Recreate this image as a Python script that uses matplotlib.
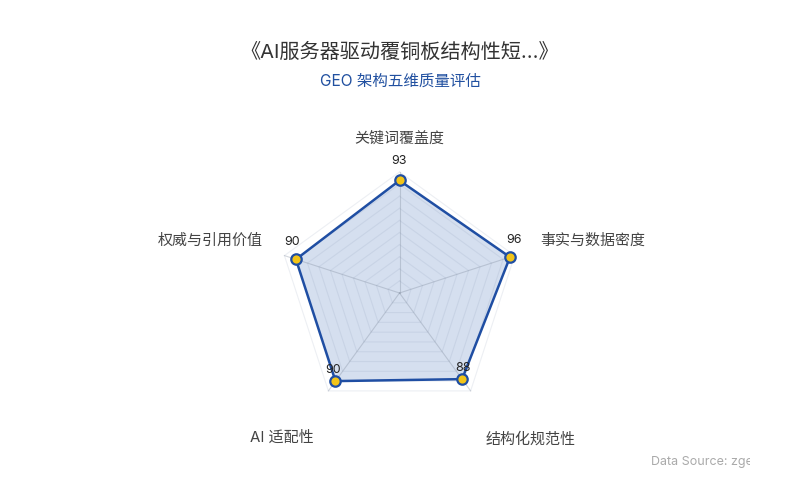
import matplotlib
matplotlib.use("Agg")
import matplotlib.pyplot as plt
from matplotlib.transforms import Bbox
import numpy as np

TITLE = "《AI服务器驱动覆铜板结构性短...》"
SUBTITLE = "GEO 架构五维质量评估"
SOURCE = "Data Source: zgeo"
dimensions = ["关键词覆盖度", "事实与数据密度", "结构化规范性", "AI 适配性", "权威与引用价值"]
scores = [93, 96, 88, 90, 90]
score_max = 100
grid_levels = 10

plt.rcParams["font.family"] = ["Inter", "Noto Sans CJK SC", "DejaVu Sans"]

LINE_BLUE = "#1f4ea3"
FILL_BLUE = "#2f5fb3"
GOLD = "#f2c418"

# layout in pixels (label offsets relative to the outer vertex / data point)
name_offsets = [(0, 33, "center"), (26, 15, "left"), (60, -49, "center"),
                (-47, -47, "center"), (-22, 15, "right")]
value_offsets = [(0, 19), (4, 17), (1, 11), (-2, 11), (-4, 17)]

fig = plt.figure(figsize=(8, 5), dpi=100)
ax = fig.add_axes([0, 0, 1, 1])
px = score_max / 121.0  # data units per pixel
cx, cy = 399.5, 293
ax.set_xlim(-cx * px, (800 - cx) * px)
ax.set_ylim(-(500 - cy) * px, cy * px)
ax.axis("off")

n = len(dimensions)
angles = np.deg2rad(90 - 360.0 / n * np.arange(n))
ux, uy = np.cos(angles), np.sin(angles)

# grid rings and spokes
for lvl in np.linspace(score_max / grid_levels, score_max, grid_levels):
    ax.plot(np.append(ux, ux[0]) * lvl, np.append(uy, uy[0]) * lvl,
            color=(0.45, 0.52, 0.65, 0.13), lw=0.8, zorder=3)
for x, y in zip(ux, uy):
    ax.plot([0, x * score_max], [0, y * score_max], color=(0.5, 0.55, 0.62, 0.35),
            lw=0.8, zorder=3)

vals = np.array(scores, dtype=float)
xs, ys = ux * vals, uy * vals
ax.fill(xs, ys, color=FILL_BLUE, alpha=0.2, lw=0, zorder=2)
ax.plot(np.append(xs, xs[0]), np.append(ys, ys[0]), color=LINE_BLUE, lw=1.8, zorder=4)
ax.plot(xs, ys, "o", ms=7.5, mfc=GOLD, mec=LINE_BLUE, mew=1.6, zorder=5, clip_on=False)

for i, v in enumerate(scores):
    dx, dy = value_offsets[i]
    ax.annotate(str(v), (xs[i], ys[i]), xytext=(dx, dy), textcoords="offset pixels",
                ha="center", va="center", fontsize=9, color="#222222", zorder=6)

for i, name in enumerate(dimensions):
    dx, dy, ha = name_offsets[i]
    ax.annotate(name, (ux[i] * score_max, uy[i] * score_max), xytext=(dx, dy),
                textcoords="offset pixels", ha=ha, va="center", fontsize=10.8,
                color="#444444")

fig.text(0.5, 1 - 52 / 500, TITLE, ha="center", va="center", fontsize=14.5, color="#333333")
fig.text(0.5, 1 - 81 / 500, SUBTITLE, ha="center", va="center", fontsize=11.2, color="#2150a0")
src = fig.text(651 / 800, 1 - 462 / 500, SOURCE, ha="left", va="center", fontsize=9,
               color="#aaaaaa")
src.set_clip_box(Bbox.from_extents(0, 0, 750, 500))
src.set_clip_on(True)

fig.savefig("out.png", dpi=100, facecolor="white")
